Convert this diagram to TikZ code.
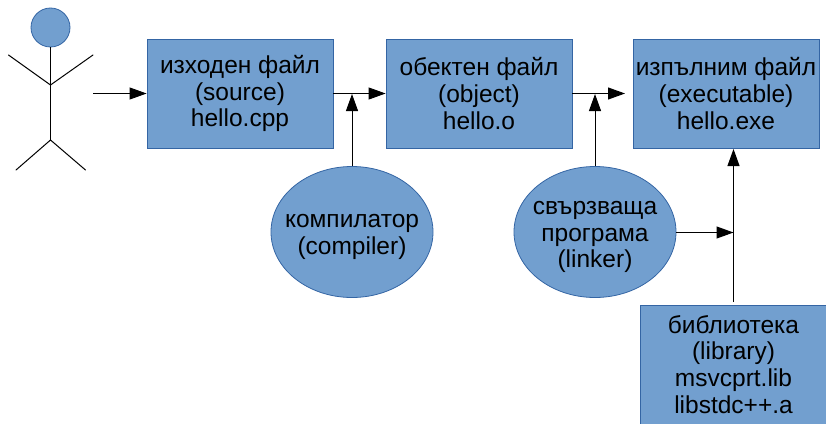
\documentclass[tikz,border=0pt]{standalone}
\usepackage{fontspec}
\setmainfont{Liberation Sans}
\usetikzlibrary{arrows.meta,shapes.geometric}
\definecolor{fillb}{HTML}{729FCF}
\definecolor{lineb}{HTML}{3465A4}
\tikzset{x=1pt,y=-1pt,
  txt/.style={font=\fontsize{24.5}{26.8}\selectfont,align=center,text=black,inner sep=0pt},
  boxn/.style={txt,rectangle,draw=lineb,fill=fillb,line width=0.8pt,minimum width=186pt,minimum height=109pt},
  ell/.style={ellipse,draw=lineb,fill=fillb,line width=0.8pt,minimum width=162pt,minimum height=131pt,inner sep=0pt},
  conn/.style={draw=black,line width=1pt,-{Triangle[length=17pt,width=12pt]}},
  limb/.style={draw=black,line width=1pt,line cap=round}}
\begin{document}
\begin{tikzpicture}
\useasboundingbox (0,0) rectangle (826,423);
% actor
\node[circle,draw=lineb,fill=fillb,line width=0.8pt,minimum size=39pt,inner sep=0pt] (head) at (50.5,27.5) {};
\coordinate (hip) at (50.5,140);
\coordinate (neck) at (50.5,85);
\coordinate (handl) at (8.5,55);
\coordinate (handr) at (93,55);
\coordinate (footl) at (16,170);
\coordinate (footr) at (85.5,170);
\draw[limb] (head.south) -- (hip);
\draw[limb] (handl) -- (neck) -- (handr);
\draw[limb] (footl) -- (hip) -- (footr);
\coordinate (actorout) at (93,93.5);
% boxes
\node[boxn] (src) at (240,93.5) {изходен файл\\(source)\\hello.cpp};
\node[boxn] (obj) at (479,93.5) {обектен файл\\(object)\\hello.o};
\node[boxn] (exe) at (726,93.5) {изпълним файл\\(executable)\\hello.exe};
\node[boxn,minimum height=119pt] (lib) at (733.5,364.5) {библиотека\\(library)\\msvcprt.lib\\libstdc++.a};
% ellipses
\node[ell,label={[txt,yshift=-5pt]center:компилатор\\(compiler)}] (cmp) at (352,232) {};
\node[ell,label={[txt,yshift=-5pt]center:свързваща\\програма\\(linker)}] (lnk) at (595,232) {};
% connectors
\coordinate (obend) at (625,93.5);
\coordinate (libout) at (733.5,302);
\coordinate (exein) at (733.5,149);
\coordinate (cmpin) at (352,94);
\coordinate (lnkin) at (595,94);
\coordinate (lnkout) at (733.5,232.5);
\draw[conn] (actorout) -- (actorout -| src.west);
\draw[conn] (src.east) -- (obj.west);
\draw[conn] (obj.east) -- (obend);
\draw[conn] (libout) -- (exein);
\draw[conn] (cmp.north) -- (cmpin);
\draw[conn] (lnk.north) -- (lnkin);
\draw[conn] (lnk.east |- lnkout) -- (lnkout);
\end{tikzpicture}
\end{document}
